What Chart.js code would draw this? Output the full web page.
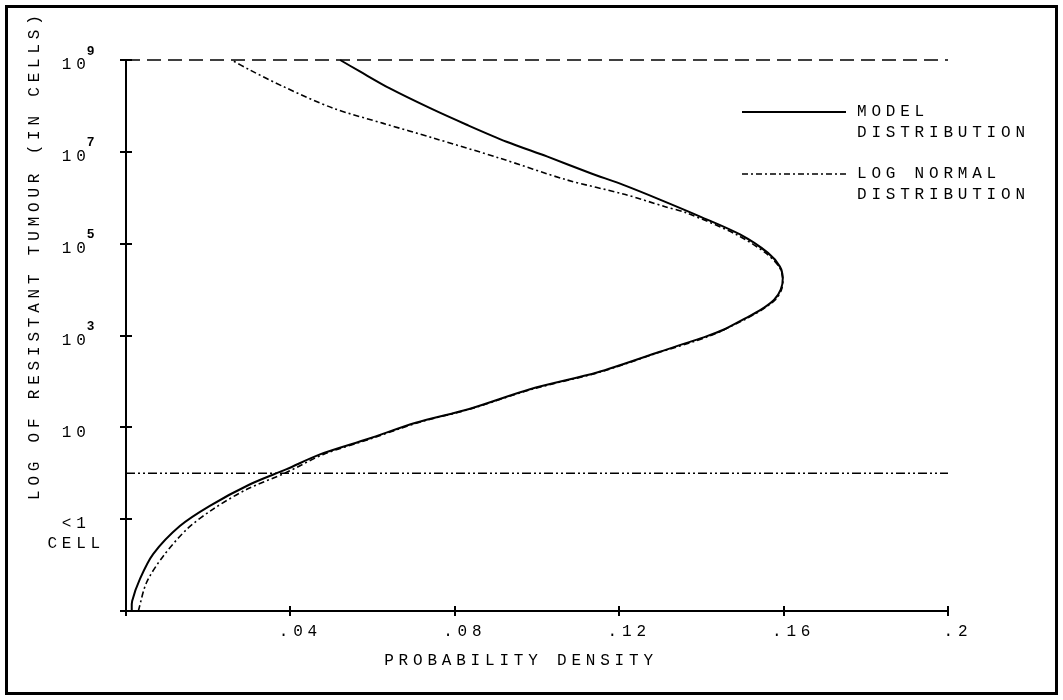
<!DOCTYPE html>
<html>
<head>
<meta charset="utf-8">
<script src="https://cdn.jsdelivr.net/npm/chart.js@4.4.1/dist/chart.umd.min.js"></script>
<style>
  html, body { margin: 0; padding: 0; background: #fff; }
  canvas { display: block; }
</style>
</head>
<body>
<canvas id="chart_density" width="1063" height="700"></canvas>
<script>
// log10 tumour size (cells) and probability density along the model curve
const modelLog = [-3.0, -2.78, -2.3, -1.76, -1.15, -0.71, -0.24, 0.09, 0.41, 0.75, 1.1, 1.4, 1.83, 2.2, 2.62,
    2.98, 3.13, 3.35, 3.57, 3.78, 4.0, 4.25, 4.5, 4.8, 5.2, 5.59, 5.96, 6.28, 6.54, 6.9, 7.22, 7.59, 7.95, 8.38, 8.75, 9.0];
const modelDensity = [0.0014, 0.0015, 0.0034, 0.0066, 0.0131, 0.0204, 0.0302, 0.0391, 0.0472, 0.0590, 0.0705, 0.0835, 0.0983, 0.1148, 0.1290,
    0.1412, 0.1455, 0.1502, 0.1546, 0.1577, 0.1593, 0.1598, 0.1591, 0.1562, 0.1494, 0.1397, 0.1299, 0.1210, 0.1129, 0.1024, 0.0926, 0.0829, 0.0740, 0.0642, 0.0569, 0.0521];

// same for the fitted log normal
const lognormLog = [-3.0, -2.38, -1.80, -1.22, -0.78, -0.35, 0.02, 0.41, 0.75, 1.1, 1.4, 1.83, 2.2, 2.62, 2.98,
    3.35, 3.57, 3.78, 4.0, 4.25, 4.5, 4.8, 5.2, 5.67, 5.81, 6.07, 6.39, 6.86, 7.30, 7.62, 7.95, 8.42, 8.78, 9.0];
const lognormDensity = [0.0030, 0.0050, 0.0091, 0.0148, 0.0212, 0.0294, 0.0391, 0.0480, 0.0595, 0.0710, 0.0838, 0.0988, 0.1152, 0.1293, 0.1417,
    0.1506, 0.1549, 0.1580, 0.1595, 0.1598, 0.1589, 0.1556, 0.1485, 0.1364, 0.1310, 0.1215, 0.1072, 0.0910, 0.0748, 0.0626, 0.0504, 0.0383, 0.0302, 0.0257];

// horizontal reference levels, log10 cells
const capLevel = 9;
const oneCellLevel = 0;

const xTickValues = [0, 0.04, 0.08, 0.12, 0.16, 0.2];
const xTickLabels = ['', '.04', '.08', '.12', '.16', '.2'];
const yTickValues = [-3, -1, 1, 3, 5, 7, 9];
const yTickLabels = ['', ['', '<1', 'CELL'], '10', '10', '10', '10', '10'];
const yTickPowers = ['', '', '', '3', '5', '7', '9'];

const xTitle = 'PROBABILITY DENSITY';
const yTitle = 'LOG OF RESISTANT TUMOUR (IN CELLS)';
const legendText = [['MODEL', 'DISTRIBUTION'], ['LOG NORMAL', 'DISTRIBUTION']];

const INK = '#000';
const SPACING = '4.8px';
const FAMILY = '"Liberation Mono", "DejaVu Sans Mono", monospace';
const FONT = '16px ' + FAMILY;
const POWER_FONT = 'bold 13px "Liberation Sans", sans-serif';

Chart.defaults.font.family = FAMILY;
Chart.defaults.font.size = 16;
Chart.defaults.color = INK;

const toPoints = (ys, xs) => ys.map((y, i) => ({ x: xs[i], y: y }));

// wide plotter lettering, titles, powers of ten, cross ticks, legend and the page frame
const plotterText = {
    id: 'plotterText',
    beforeLayout(chart) {
        chart.ctx.letterSpacing = SPACING;
    },
    beforeDraw(chart) {
        chart.ctx.letterSpacing = SPACING;
    },
    afterDraw(chart) {
        const ctx = chart.ctx;
        const area = chart.chartArea;
        const xScale = chart.scales.x;
        const yScale = chart.scales.y;
        ctx.save();
        ctx.fillStyle = INK;
        ctx.strokeStyle = INK;
        ctx.font = FONT;
        ctx.letterSpacing = SPACING;
        ctx.textBaseline = 'middle';

        // inner half of the cross ticks
        ctx.lineWidth = 2;
        ctx.beginPath();
        xTickValues.slice(1).forEach(v => {
            const px = Math.round(xScale.getPixelForValue(v));
            ctx.moveTo(px, area.bottom);
            ctx.lineTo(px, area.bottom - 5);
        });
        yTickValues.slice(1).forEach(v => {
            const py = Math.round(yScale.getPixelForValue(v));
            ctx.moveTo(area.left, py);
            ctx.lineTo(area.left + 6, py);
        });
        ctx.stroke();

        // x title
        ctx.textAlign = 'center';
        ctx.fillText(xTitle, (area.left + area.right) / 2 - 16, area.bottom + 50);

        // y title, read bottom to top
        ctx.save();
        ctx.translate(35, area.bottom - 111);
        ctx.rotate(-Math.PI / 2);
        ctx.textAlign = 'left';
        ctx.fillText(yTitle, 0, 0);
        ctx.restore();

        // raised exponents on the y labels
        ctx.save();
        ctx.font = POWER_FONT;
        ctx.letterSpacing = '0px';
        ctx.textAlign = 'left';
        yTickValues.forEach((v, i) => {
            if (!yTickPowers[i]) return;
            ctx.fillText(yTickPowers[i], area.left - 39, yScale.getPixelForValue(v) - 9);
        });
        ctx.restore();

        // legend
        const x0 = area.right - 206;
        const rows = [area.top + 52, area.top + 114];
        chart.data.datasets.slice(0, 2).forEach((ds, i) => {
            const y = rows[i];
            ctx.save();
            ctx.lineWidth = ds.borderWidth;
            ctx.setLineDash(ds.borderDash || []);
            ctx.beginPath();
            ctx.moveTo(x0, y);
            ctx.lineTo(x0 + 104, y);
            ctx.stroke();
            ctx.restore();
            ctx.textAlign = 'left';
            legendText[i].forEach((line, j) => ctx.fillText(line, x0 + 115, y + j * 21));
        });

        // frame
        ctx.lineWidth = 3;
        ctx.strokeRect(6.5, 6.5, chart.width - 13, chart.height - 13);
        ctx.restore();
    }
};

new Chart(document.getElementById('chart_density'), {
    type: 'scatter',
    data: {
        datasets: [
            {
                label: 'MODEL DISTRIBUTION',
                data: toPoints(modelLog, modelDensity),
                borderColor: INK,
                borderWidth: 2,
                borderDash: [],
                showLine: true,
                tension: 0.3,
                clip: 4
            },
            {
                label: 'LOG NORMAL DISTRIBUTION',
                data: toPoints(lognormLog, lognormDensity),
                borderColor: INK,
                borderWidth: 1.6,
                borderDash: [6, 3, 2, 3],
                showLine: true,
                tension: 0.3,
                clip: 4
            },
            {
                label: 'cap',
                data: [{ x: 0, y: capLevel }, { x: 0.2, y: capLevel }],
                borderColor: INK,
                borderWidth: 1.6,
                borderDash: [14, 7],
                showLine: true,
                clip: 4
            },
            {
                label: 'one cell',
                data: [{ x: 0, y: oneCellLevel }, { x: 0.2, y: oneCellLevel }],
                borderColor: INK,
                borderWidth: 1.6,
                borderDash: [9, 3, 2, 3, 2, 3],
                showLine: true,
                clip: 4
            }
        ]
    },
    options: {
        responsive: false,
        animation: false,
        devicePixelRatio: 1,
        layout: { padding: { left: 0, top: 60, right: 115, bottom: 29 } },
        elements: { point: { radius: 0, hoverRadius: 0 } },
        plugins: {
            legend: { display: false },
            tooltip: { enabled: false }
        },
        scales: {
            x: {
                type: 'linear',
                min: 0,
                max: 0.2,
                afterBuildTicks: s => { s.ticks = xTickValues.map(v => ({ value: v })); },
                afterFit: s => { s.height = 60; },
                ticks: {
                    callback: (v, i) => xTickLabels[i],
                    maxRotation: 0,
                    padding: 6,
                    labelOffset: 10
                },
                grid: { drawOnChartArea: false, color: INK, lineWidth: 2, tickLength: 5 },
                border: { color: INK, width: 2 }
            },
            y: {
                type: 'linear',
                min: -3,
                max: 9,
                afterBuildTicks: s => { s.ticks = yTickValues.map(v => ({ value: v })); },
                afterFit: s => { s.width = 126; },
                ticks: {
                    callback: (v, i) => yTickLabels[i],
                    crossAlign: 'center',
                    padding: 15,
                    labelOffset: 5
                },
                grid: { drawOnChartArea: false, color: INK, lineWidth: 2, tickLength: 6 },
                border: { color: INK, width: 2 }
            }
        }
    },
    plugins: [plotterText]
});
</script>
</body>
</html>
